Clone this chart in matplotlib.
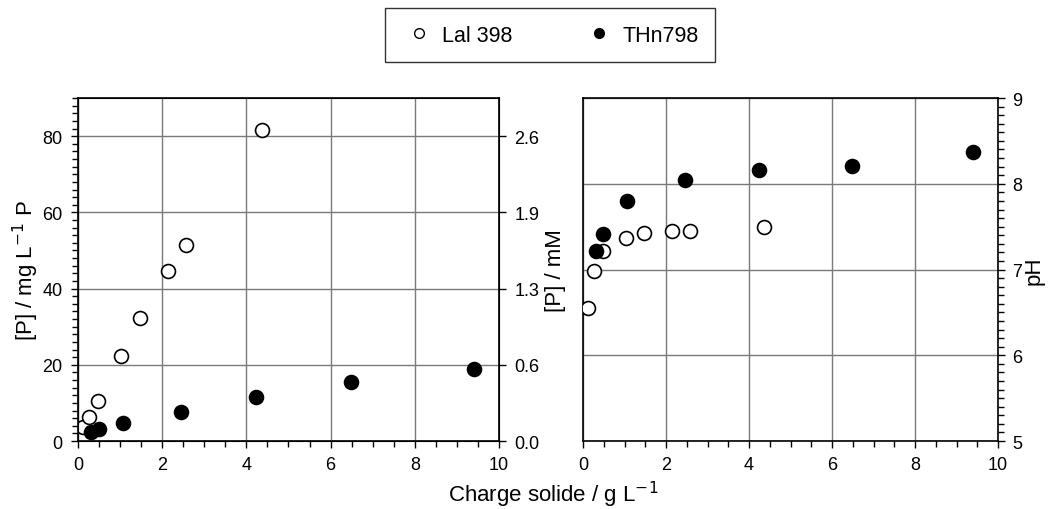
import matplotlib
matplotlib.use('Agg')
import matplotlib.pyplot as plt
from matplotlib.lines import Line2D
from matplotlib.ticker import MultipleLocator

plt.rcParams['font.family'] = ['Liberation Sans', 'DejaVu Sans']

# ------------------------------------------------------------
# Data
# ------------------------------------------------------------
# Lal 398 (open circles)
lal_charge = [0.13, 0.27, 0.48, 1.03, 1.48, 2.15, 2.57, 4.36]
lal_p_mg = [3.8, 6.4, 10.6, 22.2, 32.2, 44.5, 51.4, 81.5]
lal_ph = [6.55, 6.98, 7.22, 7.37, 7.43, 7.45, 7.45, 7.50]

# THn798 (filled circles)
thn_charge = [0.31, 0.49, 1.06, 2.45, 4.23, 6.49, 9.40]
thn_p_mg = [2.3, 3.1, 4.7, 7.7, 11.5, 15.4, 18.8]
thn_ph = [7.22, 7.42, 7.80, 8.04, 8.16, 8.21, 8.37]

p_mg_ticks = [0, 20, 40, 60, 80]
p_mm_labels = ['0.0', '0.6', '1.3', '1.9', '2.6']
ph_ticks = [5, 6, 7, 8, 9]
x_ticks = [0, 2, 4, 6, 8, 10]

GRID = '#7a7a7a'
MS = 10
TICK_FS = 13

fig = plt.figure(figsize=(10.48, 5.10), dpi=100)
ax1 = fig.add_axes([0.0744, 0.1333, 0.4017, 0.6725])
ax2 = fig.add_axes([0.5563, 0.1333, 0.396, 0.6725])


def style_x(ax):
    ax.set_xlim(0, 10)
    ax.set_xticks(x_ticks)
    ax.xaxis.set_minor_locator(MultipleLocator(0.5))
    ax.tick_params(axis='x', which='major', direction='out', length=5, width=1, labelsize=TICK_FS, pad=6)
    ax.tick_params(axis='x', which='minor', direction='out', length=4, width=1)
    for s in ax.spines.values():
        s.set_linewidth(1.2)
    ax.set_axisbelow(True)


# ---------------- left panel: [P] ----------------
style_x(ax1)
ax1.set_ylim(0, 90)
ax1.set_yticks(p_mg_ticks)
ax1.yaxis.set_minor_locator(MultipleLocator(2))
ax1.tick_params(axis='y', which='major', direction='out', length=5, width=1, labelsize=TICK_FS, pad=6)
ax1.tick_params(axis='y', which='minor', direction='out', length=4, width=1)
ax1.grid(True, which='major', color=GRID, linewidth=1)
ax1.plot(lal_charge, lal_p_mg, 'o', ms=MS, mfc='white', mec='black', mew=1.2, zorder=3)
ax1.plot(thn_charge, thn_p_mg, 'o', ms=MS, mfc='black', mec='black', mew=1.2, zorder=3)
ax1.set_ylabel('[P] / mg L$^{-1}$ P', fontsize=16, labelpad=1)

ax1r = ax1.twinx()
ax1r.set_ylim(0, 90)
ax1r.set_yticks(p_mg_ticks)
ax1r.set_yticklabels(p_mm_labels)
ax1r.tick_params(axis='y', direction='out', length=5, width=1, labelsize=TICK_FS, pad=6)
ax1r.set_ylabel('[P] / mM', fontsize=16, labelpad=4)

# ---------------- right panel: pH ----------------
style_x(ax2)
ax2.set_ylim(5, 9)
ax2.set_yticks(ph_ticks)
ax2.yaxis.set_minor_locator(MultipleLocator(0.1))
ax2.yaxis.tick_right()
ax2.yaxis.set_label_position('right')
ax2.tick_params(axis='y', which='major', direction='out', length=5, width=1, labelsize=TICK_FS, pad=5)
ax2.tick_params(axis='y', which='minor', direction='out', length=4, width=1)
ax2.grid(True, which='major', color=GRID, linewidth=1)
ax2.plot(lal_charge, lal_ph, 'o', ms=MS, mfc='white', mec='black', mew=1.2, zorder=3)
ax2.plot(thn_charge, thn_ph, 'o', ms=MS, mfc='black', mec='black', mew=1.2, zorder=3)
ax2.set_ylabel('pH', fontsize=16, labelpad=1, rotation=90)

fig.text(0.528, 0.03, 'Charge solide / g L$^{-1}$', ha='center', va='center', fontsize=16)

handles = [
    Line2D([], [], ls='none', marker='o', ms=7, mfc='white', mec='black', mew=1),
    Line2D([], [], ls='none', marker='o', ms=7, mfc='black', mec='black'),
]
leg = fig.legend(handles, ['Lal 398', 'THn798'], loc='center',
                 bbox_to_anchor=(550 / 1048, 1 - 36 / 510), ncol=2,
                 fontsize=15.5, frameon=True, fancybox=False, edgecolor='black',
                 handletextpad=0.3, columnspacing=3.2, borderpad=0.75,
                 handlelength=1.6)
leg.get_frame().set_linewidth(1.0)

fig.savefig('out.png', dpi=100)
